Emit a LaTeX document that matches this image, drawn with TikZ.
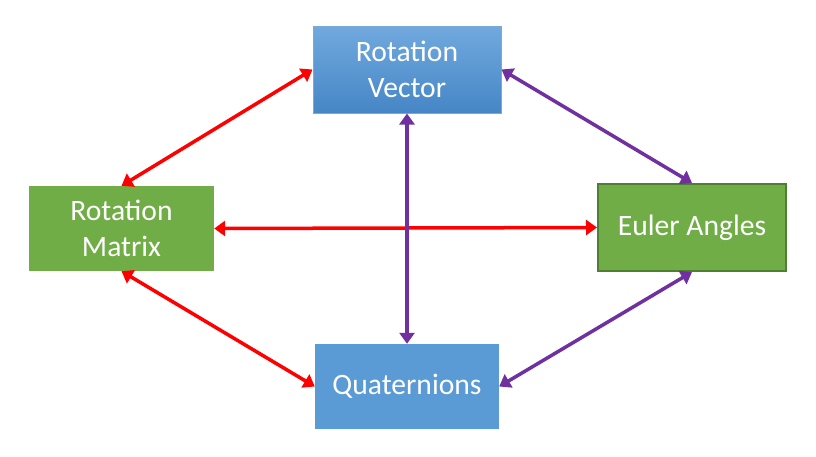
\documentclass[tikz,border=0pt]{standalone}
\usepackage{fontspec}
\setmainfont{Carlito}
\usetikzlibrary{arrows.meta,positioning}
\definecolor{repblue}{RGB}{91,155,213}
\definecolor{repbluetop}{RGB}{113,169,222}
\definecolor{repbluebot}{RGB}{70,134,198}
\definecolor{repblueline}{RGB}{120,170,220}
\definecolor{repgreen}{RGB}{112,173,71}
\definecolor{repgreenline}{RGB}{80,126,50}
\definecolor{repred}{RGB}{255,0,0}
\definecolor{reppurple}{RGB}{112,48,160}

\begin{document}
\begin{tikzpicture}[x=1pt, y=-1pt,
  rep/.style={align=center, text=white, inner sep=0pt, font=\fontsize{29.6}{36}\selectfont},
  link/.style={line width=3.5pt, {Triangle[length=11pt,width=15pt]}-{Triangle[length=11pt,width=15pt]}}]
\useasboundingbox (0,0) rectangle (816,456);
\node[rep, minimum width=188pt, minimum height=87pt, top color=repbluetop, bottom color=repbluebot, draw=repblueline, line width=1pt] (vec) at (407,69.5) {Rotation\\Vector};
\node[rep, minimum width=185pt, minimum height=85pt, fill=repgreen] (mat) at (121.5,228.5) {Rotation\\Matrix};
\node[rep, minimum width=188pt, minimum height=87pt, fill=repgreen, draw=repgreenline, line width=2pt] (eul) at (692,227.5) {Euler Angles};
\node[rep, minimum width=184pt, minimum height=85pt, fill=repblue] (qua) at (407,386.5) {Quaternions};
% red links from the matrix
\draw[link, repred] (mat.north) -- (vec.west);
\draw[link, repred] (mat.east) -- (eul.west);
\draw[link, repred] (mat.south) -- (qua.west);
% purple links
\draw[link, reppurple] (vec.east) -- (eul.north);
\draw[link, reppurple] (vec.south) -- (qua.north);
\draw[link, reppurple] (eul.south) -- (qua.east);
\end{tikzpicture}
\end{document}
